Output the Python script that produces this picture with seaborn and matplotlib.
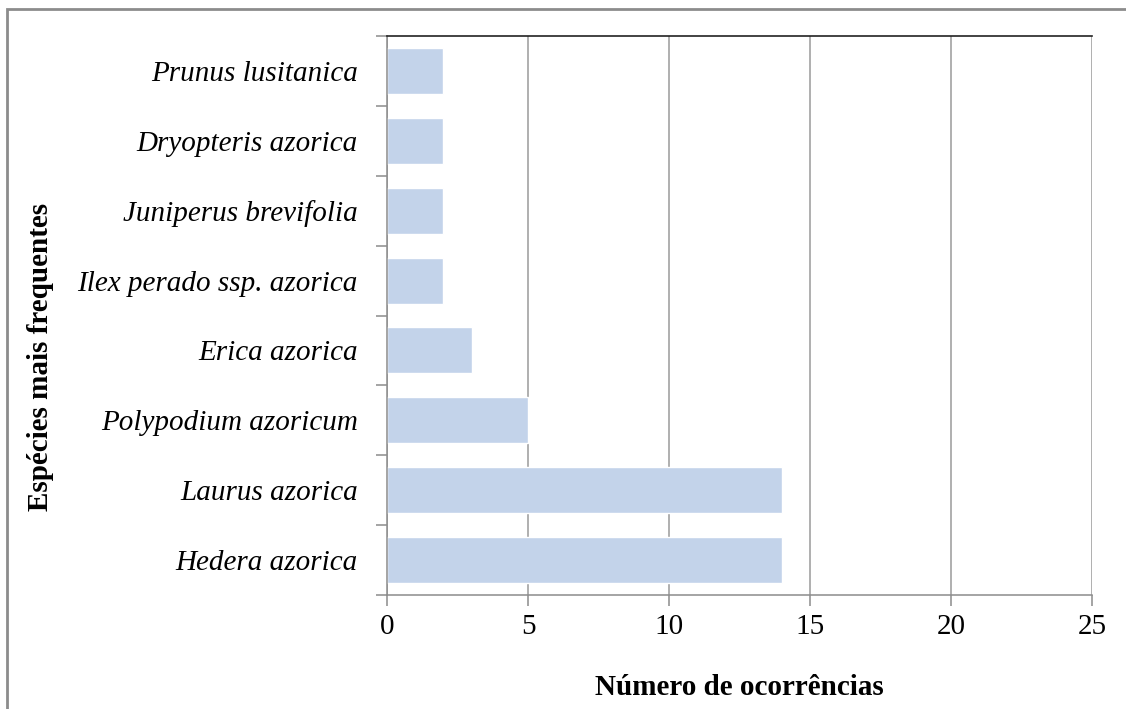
import numpy as np
import matplotlib
matplotlib.use("Agg")
import matplotlib.pyplot as plt
from matplotlib.patches import Rectangle
import seaborn as sns
import pandas as pd

# data, top to bottom
species = ["Prunus lusitanica", "Dryopteris azorica", "Juniperus brevifolia",
           "Ilex perado ssp. azorica", "Erica azorica", "Polypodium azoricum",
           "Laurus azorica", "Hedera azorica"]
occurrences = [2, 2, 2, 2, 3, 5, 14, 14]
x_ticks = [0, 5, 10, 15, 20, 25]

df = pd.DataFrame({"species": species, "n": occurrences})

sns.set_theme(style="white")
plt.rcParams["font.family"] = ["Liberation Serif", "DejaVu Serif"]
plt.rcParams["text.color"] = "black"
plt.rcParams["xtick.labelcolor"] = "black"
plt.rcParams["ytick.labelcolor"] = "black"
plt.rcParams["axes.labelcolor"] = "black"

fig = plt.figure(figsize=(11.26, 7.09), dpi=100)
ax = fig.add_axes([0.3437, 0.1608, 0.9698 - 0.3437, 0.9492 - 0.1608])

sns.barplot(data=df, x="n", y="species", order=species, color="#C3D3EA",
            saturation=1, width=0.66, ax=ax, zorder=2)

ax.set_xlim(0, 25)
ax.set_ylim(len(species) - 0.5, -0.5)
ax.set_xticks(x_ticks)
ax.set_xticklabels([str(v) for v in x_ticks], fontsize=21)
ax.xaxis.grid(True, color="#9A9A9A", linewidth=1.1, zorder=0)
ax.set_axisbelow(True)

# Excel style: ticks between categories, labels at centres
ax.set_yticks(np.arange(len(species) + 1) - 0.5)
ax.set_yticklabels([])
ax.set_yticks(np.arange(len(species)), minor=True)
ax.set_yticklabels(species, minor=True, fontsize=21, style="italic")
ax.tick_params(axis="y", which="minor", length=0, pad=21)
ax.tick_params(axis="y", which="major", left=True, length=8, width=1.1,
               color="#8C8C8C")
ax.tick_params(axis="x", bottom=True, length=8, width=1.1, color="#8C8C8C",
               pad=6)

for side in ["left", "bottom"]:
    ax.spines[side].set_color("#8C8C8C")
    ax.spines[side].set_linewidth(1.1)
ax.spines["top"].set_color("#222222")
ax.spines["top"].set_linewidth(1.2)
ax.spines["right"].set_visible(False)

ax.set_xlabel("Número de ocorrências", fontsize=21, fontweight="bold",
              labelpad=24)
ax.set_ylabel("")
fig.text(0.036, 0.497, "Espécies mais frequentes", rotation=90, fontsize=21,
         fontweight="bold", ha="center", va="center")

fig.patches.append(Rectangle((7 / 1126, -0.1), 1.2, 1 - 9 / 709 + 0.1,
                             transform=fig.transFigure, fill=False,
                             edgecolor="#8C8C8C", linewidth=2))

fig.savefig("out.png", dpi=100)
